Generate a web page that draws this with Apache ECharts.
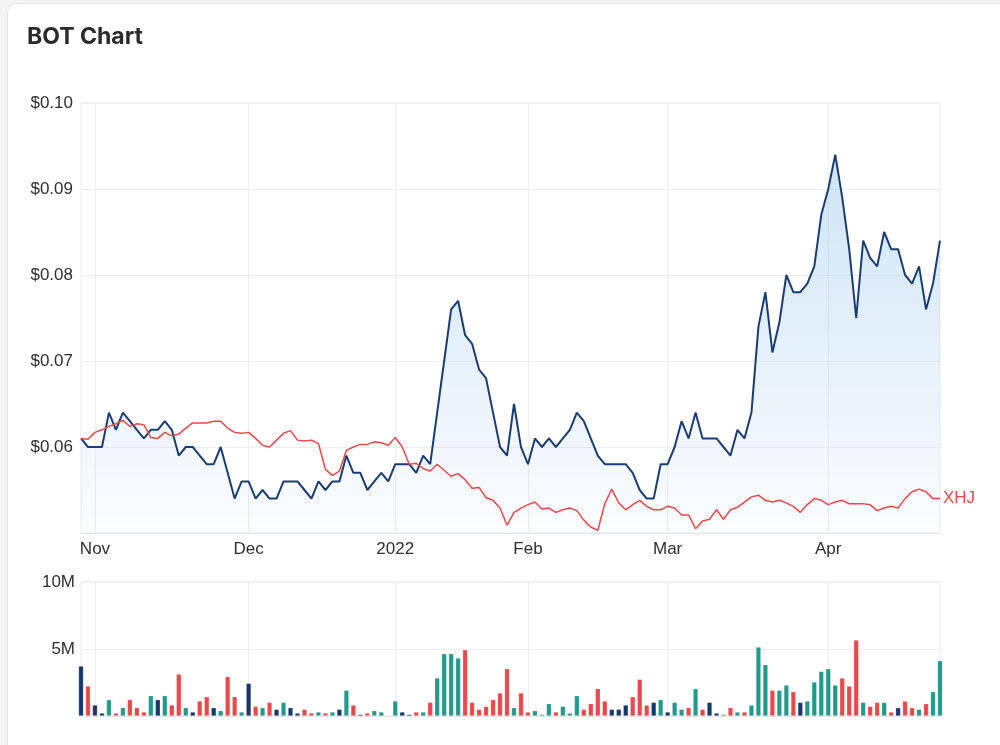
<!DOCTYPE html>
<html>
<head>
<meta charset="utf-8">
<script src="https://cdn.jsdelivr.net/npm/echarts@6/dist/echarts.min.js"></script>
<style>
  html, body { margin: 0; padding: 0; background: #f4f4f4; }
  .card {
    position: absolute; left: 7px; top: 3px; width: 1010px; height: 760px;
    background: #fff; border: 1px solid #e4e4e4; border-radius: 10px;
  }
  #chart { position: absolute; left: 0; top: 0; width: 1000px; height: 745px; }
</style>
</head>
<body>
<div class="card"></div>
<div id="chart"></div>
<script>
// trading days, 28 Oct 2021 .. 28 Apr 2022 (ASX holidays skipped)
const startDay = '2021-10-28'
const endDay = '2022-04-28'
const holidays = ['2021-12-27', '2021-12-28', '2022-01-03', '2022-01-26', '2022-04-15', '2022-04-18', '2022-04-25']
const monthNames = ['Jan', 'Feb', 'Mar', 'Apr', 'May', 'Jun', 'Jul', 'Aug', 'Sep', 'Oct', 'Nov', 'Dec']

// BOT close price
const botClose = [
  0.061, 0.060, 0.060, 0.060, 0.064, 0.062, 0.064, 0.063, 0.062, 0.061,
  0.062, 0.062, 0.063, 0.062, 0.059, 0.060, 0.060, 0.059, 0.058, 0.058,
  0.060, 0.057, 0.054, 0.056, 0.056, 0.054, 0.055, 0.054, 0.054, 0.056,
  0.056, 0.056, 0.055, 0.054, 0.056, 0.055, 0.056, 0.056, 0.059, 0.057,
  0.057, 0.055, 0.056, 0.057, 0.056, 0.058, 0.058, 0.058, 0.057, 0.059,
  0.058, 0.064, 0.070, 0.076, 0.077, 0.073, 0.072, 0.069, 0.068, 0.064,
  0.060, 0.059, 0.065, 0.060, 0.058, 0.061, 0.060, 0.061, 0.060, 0.061,
  0.062, 0.064, 0.063, 0.061, 0.059, 0.058, 0.058, 0.058, 0.058, 0.057,
  0.055, 0.054, 0.054, 0.058, 0.058, 0.060, 0.063, 0.061, 0.064, 0.061,
  0.061, 0.061, 0.060, 0.059, 0.062, 0.061, 0.064, 0.074, 0.078, 0.071,
  0.0745, 0.080, 0.078, 0.078, 0.079, 0.081, 0.087, 0.090, 0.094, 0.089,
  0.083, 0.075, 0.084, 0.082, 0.081, 0.085, 0.083, 0.083, 0.080, 0.079,
  0.081, 0.076, 0.079, 0.084
]

// XHJ index, rebased to BOT
const xhj = [
  0.0610, 0.0609, 0.0617, 0.0620, 0.0624, 0.0627, 0.0631, 0.0624, 0.0627, 0.0626,
  0.0611, 0.0610, 0.0617, 0.0613, 0.0615, 0.0622, 0.0628, 0.0628, 0.0628, 0.0630,
  0.0630, 0.0622, 0.0617, 0.0616, 0.0617, 0.0610, 0.0602, 0.0600, 0.0608, 0.0616,
  0.0619, 0.0608, 0.0607, 0.0608, 0.0604, 0.0574, 0.0567, 0.0572, 0.0596, 0.0600,
  0.0603, 0.0603, 0.0606, 0.0605, 0.0602, 0.0611, 0.0600, 0.0580, 0.0581, 0.0575,
  0.0572, 0.0580, 0.0573, 0.0566, 0.0569, 0.0562, 0.0552, 0.0553, 0.0541, 0.0538,
  0.0529, 0.0509, 0.0524, 0.0529, 0.0533, 0.0536, 0.0528, 0.0529, 0.0524, 0.0527,
  0.0529, 0.0526, 0.0515, 0.0507, 0.0503, 0.0534, 0.0551, 0.0535, 0.0527, 0.0533,
  0.0538, 0.0531, 0.0527, 0.0527, 0.0531, 0.0529, 0.0521, 0.0521, 0.0505, 0.0514,
  0.0516, 0.0527, 0.0516, 0.0527, 0.0530, 0.0536, 0.0542, 0.0544, 0.0538, 0.0536,
  0.0538, 0.0535, 0.0531, 0.0524, 0.0533, 0.0540, 0.0538, 0.0533, 0.0536, 0.0538,
  0.0534, 0.0534, 0.0534, 0.0533, 0.0526, 0.0529, 0.0531, 0.0529, 0.0540, 0.0548,
  0.0551, 0.0548, 0.0540, 0.0540
]

// volume, millions of shares
const volume = [
  3.73, 2.24, 0.82, 0.22, 1.22, 0.22, 0.62, 1.22, 0.62, 0.30,
  1.52, 1.22, 1.52, 0.82, 3.13, 0.62, 0.30, 1.12, 1.44, 0.62,
  0.40, 2.94, 1.44, 0.30, 2.44, 0.72, 0.62, 1.02, 0.50, 1.02,
  0.62, 0.22, 0.50, 0.22, 0.30, 0.22, 0.30, 0.50, 1.92, 0.82,
  0.12, 0.22, 0.40, 0.30, 0.05, 1.12, 0.30, 0.12, 0.30, 0.30,
  1.02, 2.84, 4.65, 4.65, 4.33, 4.95, 1.02, 0.50, 0.72, 1.22,
  1.72, 3.53, 0.62, 1.72, 0.30, 0.40, 0.12, 0.92, 0.30, 0.72,
  0.22, 1.52, 0.50, 0.92, 2.04, 1.12, 0.50, 0.50, 0.82, 1.44,
  2.74, 0.82, 1.02, 1.22, 0.30, 1.02, 0.50, 0.62, 2.04, 0.50,
  1.02, 0.22, 0.12, 0.62, 0.30, 0.30, 0.82, 5.15, 3.83, 1.92,
  1.92, 2.31, 1.82, 1.02, 1.12, 2.54, 3.33, 3.53, 2.31, 2.84,
  2.24, 5.67, 1.02, 0.72, 1.02, 1.02, 0.30, 0.62, 1.12, 0.62,
  0.50, 0.92, 1.82, 4.13
]

const UP = '#23998b'
const DOWN = '#e8494a'
const FLAT = '#17376b'

function tradingDays(from, to) {
  const out = []
  const d = new Date(from + 'T00:00:00Z')
  const end = new Date(to + 'T00:00:00Z')
  while (d <= end) {
    const s = d.toISOString().slice(0, 10)
    const wd = d.getUTCDay()
    if (wd !== 0 && wd !== 6 && !holidays.includes(s)) out.push(s)
    d.setUTCDate(d.getUTCDate() + 1)
  }
  return out
}

const dates = tradingDays(startDay, endDay)

// first trading day of each month gets a label + grid line
const isMonthStart = (idx) => idx > 0 && dates[idx].slice(5, 7) !== dates[idx - 1].slice(5, 7)
const monthLabel = (value) => {
  const m = +value.slice(5, 7)
  return m === 1 ? value.slice(0, 4) : monthNames[m - 1]
}

const volData = volume.map((v, i) => {
  let c = FLAT
  if (i > 0 && botClose[i] > botClose[i - 1]) c = UP
  if (i > 0 && botClose[i] < botClose[i - 1]) c = DOWN
  return { value: v, itemStyle: { color: c } }
})

const titleFont = 'Inter, "Noto Sans", sans-serif'
const font = '"Liberation Sans", Arial, sans-serif'
const labelColor = '#2e2e36'
const gridLine = { show: true, lineStyle: { color: '#eeeeee', width: 1 } }

const myChart = echarts.init(document.getElementById('chart'), null, { width: 1000, height: 745 })

const option = {
  animation: false,
  textStyle: { fontFamily: font },
  title: {
    text: 'BOT Chart',
    left: 22,
    top: 21,
    textStyle: { fontSize: 23, fontWeight: 'bold', color: '#2a2a2a', fontFamily: titleFont }
  },
  grid: [
    { left: 81, right: 60, top: 103, height: 430, show: true, borderColor: '#ebebeb', borderWidth: 1, backgroundColor: 'transparent' },
    { left: 81, right: 60, top: 582, height: 134, show: true, borderColor: '#ebebeb', borderWidth: 1, backgroundColor: 'transparent' }
  ],
  xAxis: [
    {
      type: 'category',
      gridIndex: 0,
      data: dates,
      boundaryGap: false,
      axisLine: { lineStyle: { color: '#e6e6e6' } },
      axisTick: { show: false },
      axisLabel: {
        interval: (idx) => isMonthStart(idx),
        formatter: monthLabel,
        color: labelColor,
        fontSize: 17,
        margin: 8
      },
      splitLine: { ...gridLine, interval: (idx) => isMonthStart(idx) }
    },
    {
      type: 'category',
      gridIndex: 1,
      data: dates,
      boundaryGap: false,
      axisLine: { lineStyle: { color: '#e6e6e6' } },
      axisTick: { show: false },
      axisLabel: { show: false },
      splitLine: { ...gridLine, interval: (idx) => isMonthStart(idx) }
    }
  ],
  yAxis: [
    {
      type: 'value',
      gridIndex: 0,
      min: 0.05,
      max: 0.10,
      interval: 0.01,
      axisLine: { show: false },
      axisTick: { show: false },
      axisLabel: {
        showMinLabel: false,
        formatter: (v) => '$' + v.toFixed(2),
        color: labelColor,
        fontSize: 17,
        margin: 8
      },
      splitLine: gridLine
    },
    {
      type: 'value',
      gridIndex: 1,
      min: 0,
      max: 10,
      interval: 5,
      axisLine: { show: false },
      axisTick: { show: false },
      axisLabel: {
        formatter: (v) => (v === 0 ? '' : v + 'M'),
        color: labelColor,
        fontSize: 17,
        margin: 6
      },
      splitLine: gridLine
    }
  ],
  series: [
    {
      name: 'BOT',
      type: 'line',
      xAxisIndex: 0,
      yAxisIndex: 0,
      data: botClose,
      showSymbol: false,
      color: '#1b3d72',
      lineStyle: { width: 2, color: '#1b3d72' },
      areaStyle: {
        origin: 'start',
        color: new echarts.graphic.LinearGradient(0, 0, 0, 1, [
          { offset: 0, color: 'rgba(120,180,230,0.52)' },
          { offset: 1, color: 'rgba(120,180,230,0.04)' }
        ])
      },
      z: 3
    },
    {
      name: 'XHJ',
      type: 'line',
      xAxisIndex: 0,
      yAxisIndex: 0,
      data: xhj,
      showSymbol: false,
      color: DOWN,
      lineStyle: { width: 1.5, color: DOWN },
      endLabel: {
        show: true,
        formatter: 'XHJ',
        color: DOWN,
        fontSize: 17,
        distance: 3,
        fontFamily: font
      },
      z: 4
    },
    {
      name: 'Volume',
      type: 'bar',
      xAxisIndex: 1,
      yAxisIndex: 1,
      data: volData,
      barWidth: 5,
      clip: true,
      itemStyle: { borderColor: 'rgba(255,255,255,0.4)', borderWidth: 0.6 }
    }
  ]
}

myChart.setOption(option)
</script>
</body>
</html>
